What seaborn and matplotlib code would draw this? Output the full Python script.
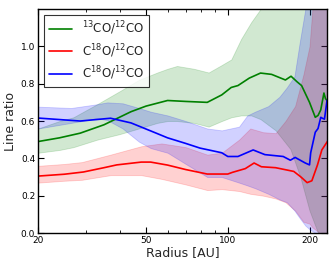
import numpy as np
import pandas as pd
import matplotlib
matplotlib.use("Agg")
import matplotlib.pyplot as plt
import seaborn as sns
from matplotlib.ticker import FixedLocator, LogLocator, NullFormatter, FixedFormatter

# --- line data (radius in AU, line ratio) ---
r_13co = [20, 24, 28.6, 35, 44, 50, 60, 70, 84, 95, 103, 109, 120, 132, 145, 163, 171,
          180, 187, 200, 210, 215, 220, 226, 229, 235]
ratio_13co = [0.49, 0.51, 0.535, 0.58, 0.65, 0.68, 0.71, 0.705, 0.70, 0.74, 0.78, 0.79,
              0.83, 0.857, 0.85, 0.82, 0.84, 0.81, 0.79, 0.70, 0.62, 0.63, 0.66, 0.75,
              0.72, 0.70]

r_c18o_12 = [20, 25, 29.4, 35, 39, 48, 52, 60, 70, 84, 100, 104, 116, 125, 133, 150,
             175, 186, 196, 204, 214, 222, 235]
ratio_c18o_12 = [0.305, 0.315, 0.327, 0.35, 0.365, 0.38, 0.38, 0.364, 0.34, 0.316,
                 0.316, 0.325, 0.345, 0.375, 0.355, 0.35, 0.33, 0.30, 0.27, 0.28,
                 0.365, 0.445, 0.50]

r_c18o_13 = [20, 28.6, 37, 44, 54.5, 60, 70, 79, 95, 100, 109, 124, 137, 160, 170, 177,
             193, 200, 202, 210, 215, 220, 223, 227, 232, 235]
ratio_c18o_13 = [0.616, 0.60, 0.615, 0.59, 0.535, 0.51, 0.48, 0.455, 0.43, 0.41, 0.41,
                 0.445, 0.42, 0.41, 0.39, 0.405, 0.375, 0.365, 0.43, 0.54, 0.56, 0.62,
                 0.615, 0.61, 0.71, 0.72]

# --- uncertainty bands ---
band_r_13co = [20, 24, 27, 33, 40, 47, 55, 60, 65, 75, 85, 95, 103, 112, 122, 132, 150,
               170, 185, 200, 215, 240]
lo_13co = [0.43, 0.445, 0.46, 0.50, 0.53, 0.56, 0.59, 0.60, 0.60, 0.59, 0.57, 0.60,
           0.62, 0.63, 0.63, 0.61, 0.55, 0.45, 0.30, 0.12, 0.0, 0.0]
hi_13co = [0.56, 0.60, 0.62, 0.69, 0.76, 0.82, 0.86, 0.88, 0.895, 0.88, 0.86, 0.90,
           0.93, 1.04, 1.13, 1.20, 1.30, 1.30, 1.30, 1.30, 1.30, 1.30]

band_r_c18o_13 = [20, 26.5, 33, 36, 41, 47, 52, 60, 70, 84, 95, 110, 118, 126, 141, 155,
                  165, 176, 184, 193, 200, 210, 240]
lo_c18o_13 = [0.56, 0.59, 0.615, 0.605, 0.56, 0.49, 0.455, 0.43, 0.37, 0.30, 0.30,
              0.27, 0.255, 0.24, 0.21, 0.18, 0.165, 0.12, 0.08, 0.04, 0.02, 0.0, 0.0]
hi_c18o_13 = [0.677, 0.67, 0.69, 0.70, 0.695, 0.67, 0.65, 0.63, 0.60, 0.56, 0.55, 0.57,
              0.63, 0.65, 0.68, 0.73, 0.78, 0.84, 1.02, 1.20, 1.30, 1.30, 1.30]

band_r_c18o_12 = [20, 25, 29, 37, 48, 57, 70, 84, 95, 110, 121, 135, 150, 163, 177, 190,
                  200, 205, 218, 240]
lo_c18o_12 = [0.27, 0.28, 0.285, 0.31, 0.31, 0.29, 0.26, 0.23, 0.235, 0.225, 0.21, 0.20,
              0.185, 0.165, 0.12, 0.06, 0.05, 0.03, 0.0, 0.0]
hi_c18o_12 = [0.36, 0.37, 0.38, 0.42, 0.465, 0.48, 0.46, 0.42, 0.43, 0.50, 0.56, 0.54,
              0.535, 0.60, 0.68, 0.85, 1.0, 1.2, 1.30, 1.30]

labels = [r"$^{13}$CO/$^{12}$CO", r"C$^{18}$O/$^{12}$CO", r"C$^{18}$O/$^{13}$CO"]
colors = ["#008000", "#ff0000", "#0000ff"]

sns.set_style("ticks")
plt.rcParams.update({
    "font.family": ["DejaVu Sans"],
    "mathtext.fontset": "dejavusans",
    "xtick.direction": "in",
    "ytick.direction": "in",
    "xtick.top": True,
    "ytick.right": True,
    "axes.edgecolor": "black",
    "axes.linewidth": 1.0,
    "xtick.color": "black",
    "ytick.color": "black",
})

df = pd.concat([
    pd.DataFrame({"radius": r_13co, "ratio": ratio_13co, "line": labels[0]}),
    pd.DataFrame({"radius": r_c18o_12, "ratio": ratio_c18o_12, "line": labels[1]}),
    pd.DataFrame({"radius": r_c18o_13, "ratio": ratio_c18o_13, "line": labels[2]}),
])

fig = plt.figure(figsize=(3.32, 2.66), dpi=100)
ax = fig.add_axes([0.1145, 0.124, 0.8705, 0.842])

bands = [
    (band_r_13co, lo_13co, hi_13co),
    (band_r_c18o_12, lo_c18o_12, hi_c18o_12),
    (band_r_c18o_13, lo_c18o_13, hi_c18o_13),
]
for (br, lo, hi), c in zip(bands, colors):
    ax.fill_between(br, lo, hi, color=c, alpha=0.18, linewidth=0.6, edgecolor=c)

sns.lineplot(data=df, x="radius", y="ratio", hue="line", palette=colors,
             hue_order=labels, estimator=None, sort=True, lw=1.2, ax=ax)

ax.set_xscale("log")
ax.set_xlim(20, 232)
ax.set_ylim(0, 1.2)
ax.xaxis.set_major_locator(FixedLocator([20, 50, 100, 200]))
ax.xaxis.set_major_formatter(FixedFormatter(["20", "50", "100", "200"]))
ax.xaxis.set_minor_locator(LogLocator(base=10, subs=np.arange(2, 10)))
ax.xaxis.set_minor_formatter(NullFormatter())
ax.set_yticks([0.0, 0.2, 0.4, 0.6, 0.8, 1.0])
ax.set_yticklabels(["0.0", "0.2", "0.4", "0.6", "0.8", "1.0"])
ax.tick_params(axis="both", which="major", labelsize=6.5, length=4, width=0.8, pad=2)
ax.tick_params(axis="both", which="minor", length=2.5, width=0.6)

ax.set_xlabel("Radius [AU]", fontsize=9, labelpad=1)
ax.set_ylabel("Line ratio", fontsize=9, labelpad=3)

leg = ax.legend(loc="upper left", fontsize=8.5, frameon=True, fancybox=False,
                handlelength=2.0, borderaxespad=0.5, labelspacing=0.4)
leg.get_frame().set_edgecolor("black")
leg.get_frame().set_linewidth(0.8)

fig.savefig("out.png", dpi=100)
